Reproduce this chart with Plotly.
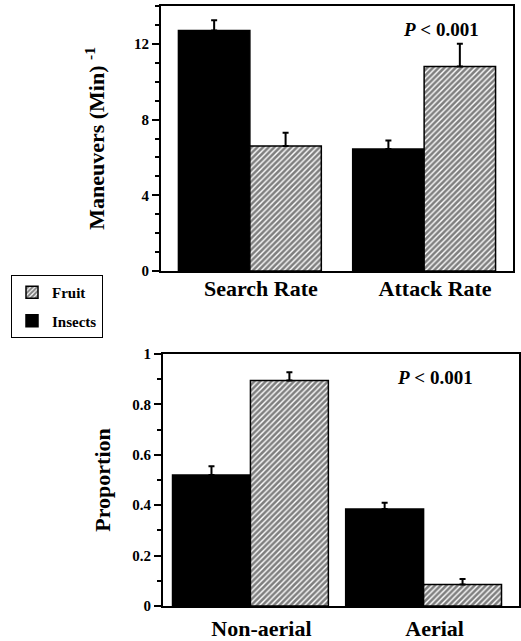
import plotly.graph_objects as go

# ---- data ----
rate_categories = ["Search Rate", "Attack Rate"]
rate_insects = [12.7, 6.45]
rate_insects_err = [0.55, 0.45]
rate_fruit = [6.6, 10.8]
rate_fruit_err = [0.7, 1.2]

prop_categories = ["Non-aerial", "Aerial"]
prop_insects = [0.52, 0.385]
prop_insects_err = [0.035, 0.025]
prop_fruit = [0.895, 0.085]
prop_fruit_err = [0.033, 0.022]

rate_ticks = [0, 4, 8, 12]
prop_ticks = [0, 0.2, 0.4, 0.6, 0.8, 1]
p_text = "<i>P</i> &lt; 0.001"

FONT = "Liberation Serif"
W, H = 521, 641

def px_x(p):
    return p / W

def px_y(p):
    return 1 - p / H

fig = go.Figure()

hatch = dict(shape="/", size=4, solidity=0.65, fgcolor="black", bgcolor="white")
err_style = dict(type="data", symmetric=False, color="black", thickness=2, width=3)

def add_pair(cats, ins, ins_err, fru, fru_err, xa, ya, w, show):
    fig.add_trace(go.Bar(
        x=cats, y=ins, name="Insects", legendgroup="insects", showlegend=show, legendrank=2,
        marker=dict(color="black", line=dict(color="black", width=1.5)),
        error_y=dict(array=ins_err, arrayminus=[0] * len(ins), **err_style),
        width=w, offset=-w, xaxis=xa, yaxis=ya))
    fig.add_trace(go.Bar(
        x=cats, y=fru, name="Fruit", legendgroup="fruit", showlegend=show, legendrank=1,
        marker=dict(color="white", pattern=hatch, line=dict(color="black", width=1.5)),
        error_y=dict(array=fru_err, arrayminus=[0] * len(fru), **err_style),
        width=w, offset=0, xaxis=xa, yaxis=ya))

add_pair(rate_categories, rate_insects, rate_insects_err, rate_fruit, rate_fruit_err, "x", "y", 0.41, True)
add_pair(prop_categories, prop_insects, prop_insects_err, prop_fruit, prop_fruit_err, "x2", "y2", 0.45, False)

xcommon = dict(type="category", showline=True, linecolor="black", linewidth=2, mirror=True,
               ticks="", showgrid=False, zeroline=False, automargin=False,
               tickfont=dict(family=FONT, size=22, color="black", weight="bold"),
               ticklabelshift=11)
ycommon = dict(showline=True, linecolor="black", linewidth=2, mirror=True,
               ticks="outside", ticklen=7, tickwidth=2, tickcolor="black",
               showgrid=False, zeroline=False, automargin=False,
               tickfont=dict(family=FONT, size=15, color="black", weight="bold"))

fig.update_layout(
    width=W, height=H,
    margin=dict(l=0, r=0, t=0, b=0),
    paper_bgcolor="white", plot_bgcolor="white",
    barmode="overlay",
    font=dict(family=FONT, color="black"),
    xaxis=dict(domain=[px_x(161), px_x(513)], range=[-0.51, 1.51], anchor="y",
               ticklabelstandoff=-3, **xcommon),
    yaxis=dict(domain=[px_y(271), px_y(6)], range=[0, 14], tickvals=rate_ticks, anchor="x",
               minor=dict(dtick=1, ticks="outside", ticklen=4, tickwidth=1.5, tickcolor="black"),
               title=dict(text="Maneuvers (Min) <sup>-1</sup>", standoff=23,
                          font=dict(family=FONT, size=22, color="black", weight="bold")),
               **ycommon),
    xaxis2=dict(domain=[px_x(163), px_x(519)], range=[-0.505, 1.551], anchor="y2",
                ticklabelstandoff=2, **xcommon),
    yaxis2=dict(domain=[px_y(606), px_y(354)], range=[0, 1], tickvals=prop_ticks, anchor="x2",
                minor=dict(dtick=0.1, ticks="outside", ticklen=4, tickwidth=1.5, tickcolor="black"),
                title=dict(text="Proportion", standoff=16,
                           font=dict(family=FONT, size=22, color="black", weight="bold")),
                **ycommon),
    legend=dict(x=px_x(11), y=px_y(275), xanchor="left", yanchor="top",
                bordercolor="black", borderwidth=1, bgcolor="white",
                traceorder="grouped", tracegroupgap=6,
                font=dict(family=FONT, size=15, color="black", weight="bold")),
    annotations=[
        dict(text=p_text, xref="paper", yref="paper", x=px_x(441), y=px_y(30),
             xanchor="center", yanchor="middle",
             showarrow=False, font=dict(family=FONT, size=19, color="black", weight="bold")),
        dict(text=p_text, xref="paper", yref="paper", x=px_x(435), y=px_y(377),
             xanchor="center", yanchor="middle",
             showarrow=False, font=dict(family=FONT, size=19, color="black", weight="bold")),
    ],
)

fig.write_html("out.html", config={"displayModeBar": False},
               post_script="document.body.style.margin='0';")
